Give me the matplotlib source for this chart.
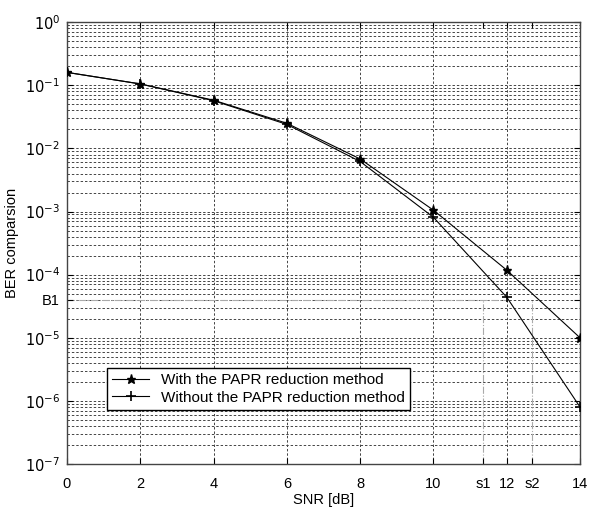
import numpy as np
import matplotlib.pyplot as plt

plt.rcParams['font.family'] = ['Liberation Sans', 'DejaVu Sans']

# ---------------------------------------------------------------------------
# DATA
# ---------------------------------------------------------------------------
snr_db = [0, 2, 4, 6, 8, 10, 12, 14]
ber_with = [0.16, 0.105, 0.058, 0.025, 0.0068, 1.05e-3, 1.18e-4, 1.0e-5]
ber_without = [0.16, 0.105, 0.057, 0.024, 0.0062, 8.1e-4, 4.4e-5, 8.0e-7]

b1 = 4.0e-5          # BER level marked as B1
s1, s2 = 11.35, 12.7  # SNR positions marked s1 / s2

x_ticks = [0, 2, 4, 6, 8, 10, s1, 12, s2, 14]
x_tick_labels = ["0", "2", "4", "6", "8", "10", "s1", "12", "s2", "14"]
y_ticks = [1e0, 1e-1, 1e-2, 1e-3, 1e-4, b1, 1e-5, 1e-6, 1e-7]
y_tick_labels = [r"$10^{0}$", r"$10^{-1}$", r"$10^{-2}$", r"$10^{-3}$",
                 r"$10^{-4}$", "B1", r"$10^{-5}$", r"$10^{-6}$", r"$10^{-7}$"]

# ---------------------------------------------------------------------------
# PLOT
# ---------------------------------------------------------------------------
fig = plt.figure(figsize=(5.95, 5.15), dpi=100)
ax = fig.add_axes([0.1126, 0.099, 0.8622, 0.858])

ax.set_yscale("log")
ax.set_xlim(0, 14)
ax.set_ylim(1e-7, 1e0)

# MATLAB-style dotted grid: horizontal at every minor decade step
grid_style = dict(color="#444444", linestyle=(0, (2.5, 2)), linewidth=0.7, zorder=0)
for dec in range(-7, 0):
    for m in range(1, 10):
        ax.axhline(m * 10.0**dec, **grid_style)
for xv in [2, 4, 6, 8, 10, 12]:
    ax.axvline(xv, **grid_style)

# B1 / s1 / s2 marker lines
mark_style = dict(color="#aaaaaa", linestyle="-.", linewidth=0.8, zorder=1)
ax.hlines(b1, 0, 12, **mark_style)
ax.vlines([s1, s2], 1e-7, b1, **mark_style)

ax.plot(snr_db, ber_with, "k-", marker="*", markersize=6.5, linewidth=0.8,
        label="With the PAPR reduction method", zorder=3)
ax.plot(snr_db, ber_without, "k-", marker="+", markersize=7, linewidth=0.8,
        markeredgewidth=1.2, label="Without the PAPR reduction method", zorder=3)

ax.set_xticks(x_ticks)
ax.set_xticklabels(x_tick_labels)
ax.set_yticks(y_ticks)
ax.set_yticklabels(y_tick_labels)
ax.yaxis.set_minor_locator(plt.NullLocator())
ax.tick_params(axis="both", labelsize=10.5, direction="in", length=4, color="k",
               top=True, right=True)
ax.tick_params(axis="x", pad=9)
ax.tick_params(axis="y", pad=5)

for sp in ax.spines.values():
    sp.set_color("#444444")
    sp.set_linewidth(1.0)

ax.set_xlabel("SNR [dB]", fontsize=10.5, labelpad=2)
ax.set_ylabel("BER comparsion", fontsize=10.5)

leg = ax.legend(loc="lower left", bbox_to_anchor=(0.078, 0.122), fontsize=11,
                fancybox=False, framealpha=1, edgecolor="k",
                borderaxespad=0, handlelength=2.4, labelspacing=0.25,
                borderpad=0.35)
leg.get_frame().set_linewidth(1.0)

fig.savefig("out.png", dpi=100)
